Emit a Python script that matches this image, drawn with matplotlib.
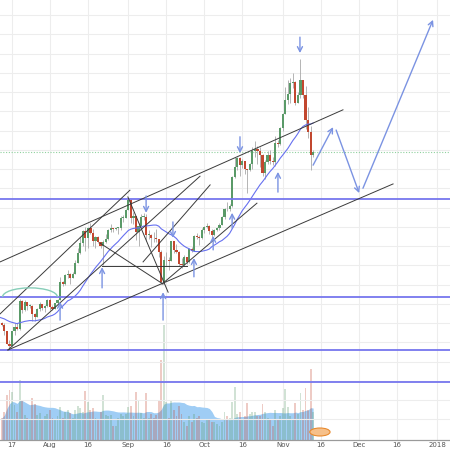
import matplotlib
matplotlib.use("Agg")
import matplotlib.pyplot as plt
import matplotlib.dates as mdates
import matplotlib.patches as patches
import numpy as np
import pandas as pd

# daily BTC/USD candles, 2017-07-13 .. 2017-11-13
START = "2017-07-13"
first_open = 2400
closes = [2360, 2230, 1970, 1930, 2230, 2320, 2270,
          2860, 2670, 2830, 2750, 2760, 2580, 2530,
          2690, 2790, 2720, 2760, 2870, 2730, 2700,
          2810, 2880, 3250, 3220, 3390, 3420, 3340,
          3420, 3650, 3850, 4060, 4320, 4160, 4380,
          4280, 4110, 4190, 4090, 4000, 4090, 4150,
          4330, 4370, 4350, 4380, 4380, 4580, 4580,
          4740, 4950, 4580, 4620, 4290, 4420, 4600,
          4600, 4230, 4230, 4170, 4160, 4140, 3880,
          3250, 3700, 3700, 3690, 4100, 3910, 3880,
          3630, 3610, 3780, 3660, 3930, 3890, 4210,
          4190, 4160, 4340, 4400, 4410, 4320, 4230,
          4330, 4370, 4440, 4610, 4770, 4760, 4830,
          5440, 5640, 5820, 5690, 5760, 5590, 5570,
          5710, 5980, 6010, 5980, 5900, 5520, 5740,
          5890, 5770, 5750, 6150, 6130, 6450, 6740,
          7030, 7160, 7380, 7400, 6970, 7130, 7460,
          7140, 6620, 6360, 5890, 5950]
highs = [2420, 2390, 2230, 2050, 2240, 2400, 2400,
         2900, 2870, 2880, 2830, 2790, 2770, 2600,
         2710, 2830, 2800, 2780, 2900, 2930, 2780,
         2810, 2900, 3350, 3270, 3410, 3500, 3440,
         3450, 3700, 3950, 4190, 4330, 4400, 4390,
         4480, 4360, 4200, 4200, 4090, 4130, 4250,
         4350, 4460, 4380, 4400, 4400, 4630, 4640,
         4760, 4980, 4980, 4710, 4620, 4480, 4660,
         4680, 4670, 4330, 4240, 4300, 4360, 4140,
         3910, 3800, 3880, 3780, 4110, 4110, 4050,
         3900, 3760, 3810, 3780, 3960, 3970, 4220,
         4260, 4230, 4370, 4410, 4470, 4440, 4350,
         4360, 4400, 4470, 4630, 4790, 4920, 4870,
         5450, 5860, 5850, 5850, 5800, 5770, 5590,
         5730, 6060, 6190, 6070, 6050, 5920, 5790,
         5980, 5990, 5850, 6290, 6200, 6470, 6760,
         7300, 7450, 7490, 7600, 7420, 7210, 7880,
         7460, 7320, 6880, 6500, 6000]
lows = [2330, 2160, 1960, 1840, 1930, 2160, 2260,
        2250, 2610, 2650, 2670, 2710, 2450, 2440,
        2520, 2650, 2680, 2620, 2740, 2660, 2670,
        2700, 2780, 2870, 3160, 3200, 3340, 3220,
        3330, 3410, 3640, 3830, 3990, 3900, 3960,
        4240, 3990, 3950, 4060, 3960, 3600, 4070,
        4130, 4290, 4300, 4330, 4250, 4340, 4500,
        4580, 4740, 4470, 4450, 4130, 4000, 4420,
        4550, 4100, 4150, 3980, 4090, 4080, 3770,
        3230, 3210, 3580, 3500, 3690, 3850, 3850,
        3590, 3550, 3580, 3630, 3650, 3870, 3890,
        4140, 4030, 4150, 4280, 4380, 4240, 4190,
        4200, 4320, 4330, 4430, 4560, 4720, 4720,
        4820, 5410, 5570, 5450, 5630, 5500, 5110,
        5550, 5610, 5850, 5700, 5640, 5460, 5400,
        5710, 5710, 5680, 5660, 6050, 6100, 6380,
        6740, 6950, 6980, 7280, 6930, 6970, 7070,
        7080, 6440, 6250, 5580, 5850]
volumes = [22, 28, 45, 50, 48, 35, 28,
           60, 40, 25, 22, 20, 42, 36,
           25, 27, 20, 24, 26, 30, 22,
           20, 24, 33, 22, 28, 30, 27,
           22, 30, 34, 32, 28, 49, 38,
           30, 32, 22, 20, 28, 45, 25,
           24, 25, 14, 14, 22, 26, 24,
           26, 33, 34, 24, 48, 40, 27,
           22, 47, 22, 26, 22, 25, 40,
           80, 115, 38, 22, 40, 30, 24,
           34, 26, 18, 14, 24, 18, 26,
           22, 24, 18, 17, 20, 20, 18,
           18, 16, 14, 18, 28, 24, 22,
           38, 53, 26, 28, 20, 24, 37,
           26, 28, 28, 24, 24, 36, 28,
           22, 20, 14, 30, 20, 24, 32,
           51, 33, 24, 20, 37, 26, 47,
           30, 52, 30, 71, 28]
# closes 2017-06-23 .. 2017-07-12, only used to seed the 20-day average
prior_closes = [2710, 2590, 2550, 2430, 2580, 2580, 2550, 2480, 2430, 2510,
                2570, 2600, 2610, 2610, 2500, 2560, 2510, 2330, 2310, 2400]

levels = [4980, 2940, 1840, 1175]

tick_dates = ["2017-07-17", "2017-08-01", "2017-08-16", "2017-09-01",
              "2017-09-16", "2017-10-01", "2017-10-16", "2017-11-01",
              "2017-11-16", "2017-12-01", "2017-12-16", "2018-01-01"]
tick_labels = ["17", "Aug", "16", "Sep", "16", "Oct", "16", "Nov",
               "16", "Dec", "16", "2018"]

# drawings: x in days after 2017-07-17, y in price
ANCHOR = pd.Timestamp("2017-07-17")
trend_lines = [((-4.7, 3670), (130.8, 6830)),
               ((-4.7, 2590), (46.6, 5160)),
               ((-1.6, 1840), (74.3, 5450)),
               ((-1.6, 1840), (150.6, 5290)),
               ((59.3, 3210), (96.8, 4890)),
               ((51.8, 3670), (78.3, 5270)),
               ((45.8, 5020), (61.7, 3040)),
               ((34.8, 4060), (59.7, 3210)),
               ((35.6, 3585), (69.2, 3585))]
marker_arrows = [(19.0, 2460, 2840), (35.6, 3130, 3560), (59.7, 2460, 3040),
                 (53.0, 5040, 4690), (63.6, 4500, 4170), (71.9, 3360, 3750),
                 (79.5, 3920, 4210), (87.0, 4370, 4690), (90.1, 6270, 5930),
                 (105.1, 5120, 5540), (113.8, 8340, 8010)]
path_arrows = [((119.0, 5680), (126.9, 6470)),
               ((128.1, 6410), (137.2, 5100)),
               ((138.7, 5200), (166.4, 8700))]


def day(offset):
    return mdates.date2num(ANCHOR + pd.Timedelta(days=offset))


UP, DOWN = "#5a9a68", "#c2472f"
BLUE = "#7676ee"
ARROW = "#7b93e2"

dates = pd.date_range(START, periods=len(closes), freq="D")
x = mdates.date2num(dates)
opens = [first_open] + closes[:-1]
o, c = np.array(opens), np.array(closes)
up = c >= o
colors = np.where(up, UP, DOWN)

fig = plt.figure(figsize=(4.5, 4.5), dpi=100)
fig.patch.set_facecolor("white")
ax2 = fig.add_axes([0, 10 / 450, 1, 440 / 450])
ax = ax2.twinx()
ax2.set_ylim(0, 440)

# volume + its 20-day average
vol_ma = pd.Series(volumes).rolling(20, min_periods=1).mean()
ax2.fill_between(x, 0, vol_ma, color="#9fcdf5", lw=0, zorder=1)
ax2.bar(x, volumes, width=0.75, color=colors, alpha=0.28, lw=0, zorder=2)
ax2.add_patch(patches.Ellipse((day(121.7), 8), 8, 8, facecolor="#f6c08a",
                              edgecolor="#e88a2e", lw=0.8, zorder=3))
ax2.set_yticks([])

# grid
for d in tick_dates:
    ax2.axvline(mdates.date2num(pd.Timestamp(d)), color="#ededed", lw=0.8, zorder=0)
ax.set_yticks(np.arange(400, 9000, 400))
ax.yaxis.grid(True, color="#ededed", lw=0.8)
ax.set_axisbelow(True)

# candles
ax.vlines(x, lows, highs, color="#a8a8a8", lw=0.6, zorder=3)
body = np.maximum(np.abs(c - o), 15)
ax.bar(x, body, bottom=np.minimum(o, c), width=0.85, color=colors, lw=0, zorder=4)

# 20-day moving average
all_closes = pd.Series(prior_closes + closes)
all_dates = pd.date_range("2017-06-23", periods=len(all_closes), freq="D")
ax.plot(mdates.date2num(all_dates), all_closes.rolling(20).mean(),
        color="#6670f0", lw=0.8, zorder=5)

for lv in levels:
    ax.axhline(lv, color=BLUE, lw=1.3, zorder=5)
ax.axhline(closes[-1], color="#8fd19e", lw=0.8, ls=(0, (1, 1.5)), zorder=2)

for (d0, p0), (d1, p1) in trend_lines:
    ax.plot([day(d0), day(d1)], [p0, p1], color="#3a3a3a", lw=0.7, zorder=6)

ax.add_patch(patches.Arc((day(7.1), 2940), 21.7, 380, theta1=0, theta2=180,
                         color="#86cdb8", lw=1.0, zorder=6))

style = "->,head_length=0.35,head_width=0.18"
for d, tail, head in marker_arrows:
    ax.annotate("", xy=(day(d), head), xytext=(day(d), tail),
                arrowprops=dict(arrowstyle=style, color=ARROW, lw=1.0,
                                shrinkA=0, shrinkB=0), zorder=7)
for (d0, p0), (d1, p1) in path_arrows:
    ax.annotate("", xy=(day(d1), p1), xytext=(day(d0), p0),
                arrowprops=dict(arrowstyle=style, color=ARROW, lw=1.0,
                                shrinkA=0, shrinkB=0), zorder=7)

ax.set_ylim(-31, 9112)
ax.set_xlim(day(-4.74), day(173.1))
ax.set_yticklabels([])
ax.tick_params(axis="y", length=0)
ax2.set_xticks([mdates.date2num(pd.Timestamp(d)) for d in tick_dates])
ax2.set_xticklabels(tick_labels, fontsize=5, color="#555555")
ax2.tick_params(axis="x", length=0, pad=1.5)
for a in (ax, ax2):
    for side in ("top", "left", "right"):
        a.spines[side].set_visible(False)
    a.spines["bottom"].set_color("#9a9a9a")
    a.spines["bottom"].set_linewidth(0.8)

fig.savefig("out.png", dpi=100)
